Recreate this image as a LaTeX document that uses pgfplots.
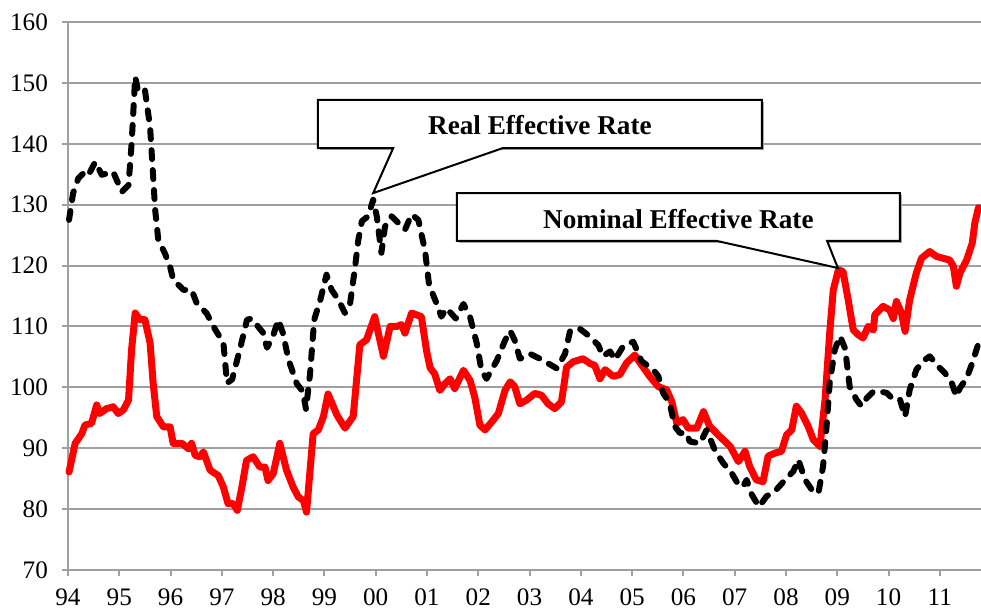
\documentclass[border=0pt]{standalone}
\usepackage{pgfplots}
\pgfplotsset{compat=1.18}
\usepackage{fontspec}
\setmainfont{Liberation Serif}
\definecolor{gridgray}{RGB}{160,160,160}
\definecolor{nomred}{RGB}{255,0,0}
\begin{document}
\begin{tikzpicture}
\begin{axis}[
  scale only axis, width=456.5pt, height=274pt,
  xmin=1994, xmax=2011.8, ymin=70, ymax=160,
  axis lines*=left,
  axis line style={draw=gridgray, line width=1pt},
  ymajorgrids, grid style={draw=gridgray, line width=1pt},
  xtick={1994,...,2011},
  xticklabels={94,95,96,97,98,99,00,01,02,03,04,05,06,07,08,09,10,11},
  ytick={70,80,...,160},
  tick align=outside, major tick length=3pt,
  tick style={draw=gridgray, line width=1pt},
  /pgf/number format/assume math mode=true,
  ticklabel style={font=\fontsize{12.6}{14}\selectfont},
  xticklabel style={yshift=-3pt},
  yticklabel style={xshift=-3.5pt},
  clip=false,
]
\addplot[nomred, line width=3.5pt, line join=round, line cap=round] coordinates {
(1994.02,86.1)(1994.14,90.8)(1994.27,92.4)(1994.33,93.8)(1994.46,94.1)(1994.56,97.1)
(1994.62,95.7)(1994.75,96.5)(1994.88,96.8)(1994.98,95.7)(1995.08,96.3)(1995.18,97.9)
(1995.24,106.2)(1995.31,112.2)(1995.40,111.1)(1995.50,111.1)(1995.60,107.3)(1995.66,100.7)
(1995.73,95.2)(1995.86,93.5)(1995.99,93.5)(1996.05,90.8)(1996.22,90.8)(1996.35,89.9)
(1996.41,90.8)(1996.48,88.8)(1996.57,88.6)(1996.64,89.4)(1996.77,86.4)(1996.93,85.5)
(1997.03,83.6)(1997.12,80.9)(1997.22,80.9)(1997.30,79.8)(1997.39,83.6)(1997.48,88)
(1997.61,88.6)(1997.74,86.9)(1997.84,86.9)(1997.90,84.7)(1998.00,85.8)(1998.13,90.8)
(1998.26,86.4)(1998.39,83.6)(1998.49,82)(1998.59,81.4)(1998.65,79.5)(1998.78,92.4)
(1998.88,93)(1998.98,95.2)(1999.07,98.9)(1999.24,95.5)(1999.40,93.3)(1999.56,95.2)
(1999.69,107)(1999.82,107.8)(1999.98,111.6)(2000.15,105.1)(2000.28,110)(2000.41,110)
(2000.50,110.3)(2000.57,108.9)(2000.70,112.2)(2000.89,111.6)(2000.99,106)(2001.06,103.2)
(2001.15,102.2)(2001.25,99.5)(2001.35,100.6)(2001.45,101.4)(2001.54,99.8)(2001.71,102.8)
(2001.84,101.1)(2001.93,98.4)(2002.03,93.8)(2002.13,93)(2002.26,94.3)(2002.39,95.7)
(2002.52,99.5)(2002.62,100.9)(2002.71,100.1)(2002.81,97.3)(2002.94,97.9)(2003.10,99)
(2003.23,98.7)(2003.36,97.3)(2003.49,96.5)(2003.62,97.6)(2003.72,103.3)(2003.85,104.2)
(2004.04,104.7)(2004.18,103.9)(2004.27,103.6)(2004.37,101.4)(2004.47,102.9)(2004.63,101.8)
(2004.76,102.1)(2004.89,104)(2005.05,105.3)(2005.18,103.7)(2005.34,101.8)(2005.51,100.1)
(2005.67,99.6)(2005.77,97.7)(2005.87,94.1)(2005.99,94.7)(2006.09,93.3)(2006.26,93.3)
(2006.39,96)(2006.51,93.6)(2006.71,91.9)(2006.91,90.3)(2007.07,87.8)(2007.20,89.5)
(2007.29,87)(2007.42,84.8)(2007.55,84.5)(2007.65,88.7)(2007.78,89.2)(2007.91,89.5)
(2008.01,92.2)(2008.11,93)(2008.20,96.9)(2008.30,95.8)(2008.43,93.6)(2008.53,91.4)
(2008.66,90.3)(2008.76,98)(2008.85,108.9)(2008.92,116)(2009.02,119.3)(2009.11,119)
(2009.21,114.4)(2009.31,109.4)(2009.41,108.6)(2009.50,108.1)(2009.60,110)(2009.70,109.4)
(2009.73,111.9)(2009.89,113.3)(2010.02,112.7)(2010.09,111.3)(2010.15,114.1)(2010.25,112.2)
(2010.32,109.2)(2010.41,114.4)(2010.54,118.8)(2010.64,121.2)(2010.80,122.3)(2010.93,121.5)
(2011.06,121.2)(2011.19,120.9)(2011.26,119.9)(2011.32,116.6)(2011.39,118.8)(2011.52,120.9)
(2011.63,123.7)(2011.68,127)(2011.75,129.5)
};
\addplot[black, line width=3pt, line cap=round, line join=round, dash pattern=on 4.5pt off 5.5pt] coordinates {
(1994.02,127.5)(1994.10,131.9)(1994.20,134.3)(1994.33,135.4)(1994.40,134.9)(1994.53,137.0)
(1994.66,134.9)(1994.88,135.4)(1995.05,132.1)(1995.18,133.2)(1995.24,140)(1995.31,151)
(1995.37,148.5)(1995.50,148.8)(1995.60,142.8)(1995.66,134.6)(1995.70,129.1)(1995.76,124.2)
(1995.89,122)(1995.99,119.8)(1996.05,117.7)(1996.25,116)(1996.41,116)(1996.51,113.8)
(1996.70,112.2)(1996.87,109.5)(1997.03,107.3)(1997.10,100.7)(1997.20,101.3)(1997.35,106.2)
(1997.49,111.1)(1997.58,111.3)(1997.80,109)(1997.88,106.5)(1998.00,108.5)(1998.10,111.1)
(1998.19,108.9)(1998.30,104.5)(1998.46,100.6)(1998.58,99.3)(1998.64,96.4)(1998.72,102.3)
(1998.80,111.1)(1998.92,114.4)(1999.04,118.5)(1999.14,116)(1999.27,114.4)(1999.40,112.2)
(1999.50,113.8)(1999.59,119.3)(1999.66,124.2)(1999.73,127.3)(1999.85,128.1)(1999.95,130.8)
(2000.02,128.1)(2000.11,122.1)(2000.18,126.4)(2000.31,128.1)(2000.44,127)(2000.57,125.9)
(2000.70,128.4)(2000.83,127.5)(2000.96,122.5)(2001.04,116.8)(2001.19,113.7)(2001.28,111.6)
(2001.38,113.0)(2001.56,111.3)(2001.71,113.7)(2001.84,111.5)(2001.97,107.2)(2002.06,102.8)
(2002.16,101.4)(2002.36,104.4)(2002.52,107.7)(2002.62,109.3)(2002.71,107.7)(2002.81,104.7)
(2003.01,105.5)(2003.20,104.7)(2003.43,103.6)(2003.53,103.1)(2003.69,105.5)(2003.79,109.3)
(2003.98,109.6)(2004.18,108.3)(2004.34,106.9)(2004.43,105.1)(2004.57,105.9)(2004.66,104.5)
(2004.82,106.7)(2005.02,107.5)(2005.18,104.3)(2005.41,102.9)(2005.51,101.8)(2005.60,99.1)
(2005.73,97.4)(2005.83,93.6)(2005.93,92.5)(2006.06,92.5)(2006.12,91.1)(2006.32,90.8)
(2006.45,93)(2006.61,89.7)(2006.77,87.6)(2006.94,85.9)(2007.07,84)(2007.16,83.7)
(2007.23,84.8)(2007.33,82.4)(2007.47,80.4)(2007.62,82.1)(2007.81,83.2)(2007.98,84.8)
(2008.14,86.2)(2008.24,88.1)(2008.37,84.8)(2008.50,83.2)(2008.63,82.6)(2008.72,87)
(2008.79,93.6)(2008.85,100.7)(2008.95,106.2)(2009.05,108.4)(2009.15,106.4)(2009.24,100.1)
(2009.37,98)(2009.47,96.9)(2009.57,98.2)(2009.70,99.3)(2009.83,99.3)(2009.96,99.1)
(2010.09,98)(2010.22,98)(2010.32,95.2)(2010.41,99.6)(2010.54,102.9)(2010.67,104.3)
(2010.80,105.1)(2010.97,103.4)(2011.10,102.3)(2011.23,100.7)(2011.32,98.5)(2011.39,99.9)
(2011.52,101.5)(2011.63,104)(2011.75,107.2)
};
% callout boxes
\fill[black!35, shift={(0.9pt,-0.9pt)}] (axis cs:1998.87,147.2) -- (axis cs:2007.53,147.2) -- (axis cs:2007.53,139.3) -- (axis cs:1998.87,139.3) -- cycle;
\draw[black, line width=1pt, fill=white, line join=miter] (axis cs:1998.87,147.2) -- (axis cs:2007.53,147.2) -- (axis cs:2007.53,139.3) -- (axis cs:2002.48,139.3) -- (axis cs:1999.95,131.9) -- (axis cs:2000.34,139.3) -- (axis cs:1998.87,139.3) -- cycle;
\node[font=\bfseries\fontsize{13.6}{16}\selectfont, inner sep=0pt] at (axis cs:2003.2,143.0) {Real Effective Rate};
\fill[black!35, shift={(0.9pt,-0.9pt)}] (axis cs:2001.58,131.9) -- (axis cs:2010.22,131.9) -- (axis cs:2010.22,124.04) -- (axis cs:2001.58,124.04) -- cycle;
\draw[black, line width=1pt, fill=white, line join=miter] (axis cs:2001.58,131.9) -- (axis cs:2010.22,131.9) -- (axis cs:2010.22,124.04) -- (axis cs:2008.80,124.04) -- (axis cs:2009.01,119.6) -- (axis cs:2006.65,124.04) -- (axis cs:2001.58,124.04) -- cycle;
\node[font=\bfseries\fontsize{13.6}{16}\selectfont, inner sep=0pt] at (axis cs:2005.9,127.7) {Nominal Effective Rate};
\end{axis}
\pgfresetboundingbox
\path (-34pt,-20.5pt) rectangle (456.5pt,285pt);
\end{tikzpicture}
\end{document}
